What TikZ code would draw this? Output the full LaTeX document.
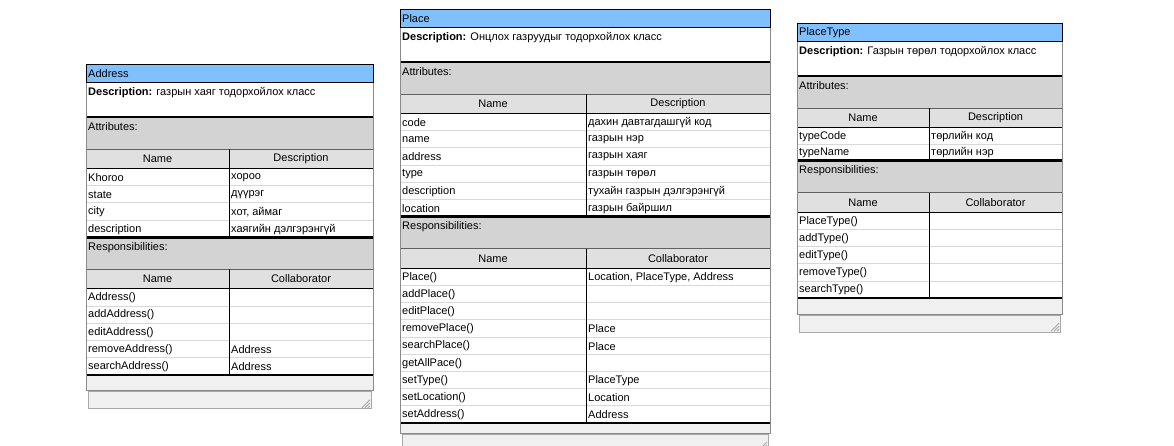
\documentclass[tikz,border=0pt]{standalone}
\usepackage{fontspec}
\setmainfont{Liberation Sans}
\definecolor{titleblue}{HTML}{80C0FF}
\definecolor{secgrey}{HTML}{D3D3D3}
\definecolor{hdrgrey}{HTML}{E0E0E0}
\definecolor{lightgrey}{HTML}{F0F0F0}
\definecolor{framegrey}{HTML}{8A8A8A}
\definecolor{boxgrey}{HTML}{A8A8A8}
\definecolor{rowline}{HTML}{D8D8D8}
\definecolor{hdrline}{HTML}{606060}
\tikzset{
  x=1pt, y=-1pt,
  txt/.style={anchor=west, inner sep=0pt, font=\fontsize{11}{13}\selectfont},
  ctxt/.style={anchor=center, inner sep=0pt, font=\fontsize{11}{13}\selectfont},
  heavy/.style={line width=2.5pt},
  thinline/.style={line width=0.9pt},
}
\def\rowh{17.2}
% #1 id, #2 left, #3 top, #4 right, #5 column x, #6 title, #7 description, #8 attributes, #9 responsibilities
\newcommand\crccard[9]{%
  \def\cL{#2}\def\cT{#3}\def\cR{#4}\def\cC{#5}%
  \pgfmathsetmacro\yA{\cT+18.5}%
  \pgfmathsetmacro\yB{\yA+34.5}%
  \pgfmathsetmacro\yC{\yB+32}%
  \pgfmathsetmacro\yD{\yC+19.5}%
  \foreach \p [count=\i] in {#8} {\xdef\nA{\i}}%
  \foreach \p [count=\i] in {#9} {\xdef\nR{\i}}%
  \pgfmathsetmacro\yE{\yD+\rowa*\nA}%
  \pgfmathsetmacro\yF{\yE+32}%
  \pgfmathsetmacro\yG{\yF+19.5}%
  \pgfmathsetmacro\yH{\yG+\rowh*\nR}%
  \pgfmathsetmacro\yI{\yH+\lgh}%
  \pgfmathsetmacro\yJ{\yI+18}%
  % fills
  \fill[white] (\cL,\yA) rectangle (\cR,\yH);
  \fill[secgrey] (\cL,\yB) rectangle (\cR,\yC);
  \fill[hdrgrey] (\cL,\yC) rectangle (\cR,\yD);
  \fill[secgrey] (\cL,\yE) rectangle (\cR,\yF);
  \fill[hdrgrey] (\cL,\yF) rectangle (\cR,\yG);
  \fill[lightgrey] (\cL,\yH) rectangle (\cR,\yI);
  % rows
  \foreach \n/\d [count=\i] in {#8} {%
    \pgfmathsetmacro\yy{\yD+\rowa*(\i-0.5)+0.5}%
    \pgfmathsetmacro\ys{\yD+\rowa*\i}%
    \draw[rowline,thinline] (\cL,\ys) -- (\cR,\ys);
    \node[txt] (#1-an\i) at (\cL+2,\yy) {\n};
    \node[txt] (#1-ad\i) at (\cC+2,\yy) {\d};
  }
  \foreach \n/\d [count=\i] in {#9} {%
    \pgfmathsetmacro\yy{\yG+\rowh*(\i-0.5)+0.5}%
    \pgfmathsetmacro\ys{\yG+\rowh*\i}%
    \draw[rowline,thinline] (\cL,\ys) -- (\cR,\ys);
    \node[txt] (#1-rn\i) at (\cL+2,\yy) {\n};
    \node[txt] (#1-rc\i) at (\cC+2,\yy) {\d};
  }
  % header lines
  \draw[hdrline,thinline] (\cL,\yC) -- (\cR,\yC);
  \draw[black,thinline] (\cL,\yD) -- (\cR,\yD);
  \draw[hdrline,thinline] (\cL,\yF) -- (\cR,\yF);
  \draw[black,thinline] (\cL,\yG) -- (\cR,\yG);
  % column dividers
  \draw[black,thinline] (\cC,\yC) -- (\cC,\yE);
  \draw[black,thinline] (\cC,\yF) -- (\cC,\yH);
  % heavy lines
  \draw[heavy] (\cL,\yB) -- (\cR,\yB);
  \draw[heavy] (\cL,\yE) -- (\cR,\yE);
  \draw[heavy] (\cL,\yH) -- (\cR,\yH);
  % outer frame
  \draw[framegrey,thinline] (\cL,\yA) rectangle (\cR,\yI);
  \draw[black,thinline,fill=titleblue] (\cL,\cT) rectangle (\cR,\yA);
  % bottom box with grip
  \draw[boxgrey,thinline,fill=lightgrey] (\cL+2,\yI+1) rectangle (\cR-2,\yJ);
  \foreach \k in {3,6,9} {\draw[boxgrey,thinline] (\cR-3,\yJ-\k) -- (\cR-2-\k,\yJ-1);}
  % texts
  \node[txt] (#1-title) at (\cL+2,\cT+9.5) {#6};
  \node[txt] (#1-desc) at (\cL+2,\yA+10.5) {\textbf{Description:} #7};
  \node[txt] (#1-attr) at (\cL+2,\yB+10) {Attributes:};
  \node[ctxt] (#1-hn) at ({(\cL+\cC)/2},{(\yC+\yD)/2}) {Name};
  \node[ctxt] (#1-hd) at ({(\cC+\cR)/2},{(\yC+\yD)/2}) {Description};
  \node[txt] (#1-resp) at (\cL+2,\yE+10) {Responsibilities:};
  \node[ctxt] (#1-rhn) at ({(\cL+\cC)/2},{(\yF+\yG)/2}) {Name};
  \node[ctxt] (#1-rhc) at ({(\cC+\cR)/2},{(\yF+\yG)/2}) {Collaborator};
}
\begin{document}
\begin{tikzpicture}
\useasboundingbox (0,0) rectangle (1174,445);
\clip (0,0) rectangle (1174,445);
\fill[white] (0,0) rectangle (1174,445);
\def\lgh{16}\def\rowa{17.2}
\crccard{addr}{86}{64}{373}{229}{Address}{газрын хаяг тодорхойлох класс}%
  {Khoroo/хороо, state/дүүрэг, city/{хот, аймаг}, description/хаягийн дэлгэрэнгүй}%
  {Address()/, addAddress()/, editAddress()/, removeAddress()/Address, searchAddress()/Address}
\def\lgh{10}\def\rowa{17.2}
\crccard{place}{400}{9}{770}{586}{Place}{Онцлох газруудыг тодорхойлох класс}%
  {code/дахин давтагдашгүй код, name/газрын нэр, address/газрын хаяг, type/газрын төрөл, description/тухайн газрын дэлгэрэнгүй, location/газрын байршил}%
  {Place()/{Location, PlaceType, Address}, addPlace()/, editPlace()/, removePlace()/Place, searchPlace()/Place, getAllPace()/, setType()/PlaceType, setLocation()/Location, setAddress()/Address}
\def\lgh{16}\def\rowa{16.6}
\crccard{ptype}{797}{23}{1062}{929}{PlaceType}{Газрын төрөл тодорхойлох класс}%
  {typeCode/төрлийн код, typeName/төрлийн нэр}%
  {PlaceType()/, addType()/, editType()/, removeType()/, searchType()/}
\end{tikzpicture}
\end{document}
